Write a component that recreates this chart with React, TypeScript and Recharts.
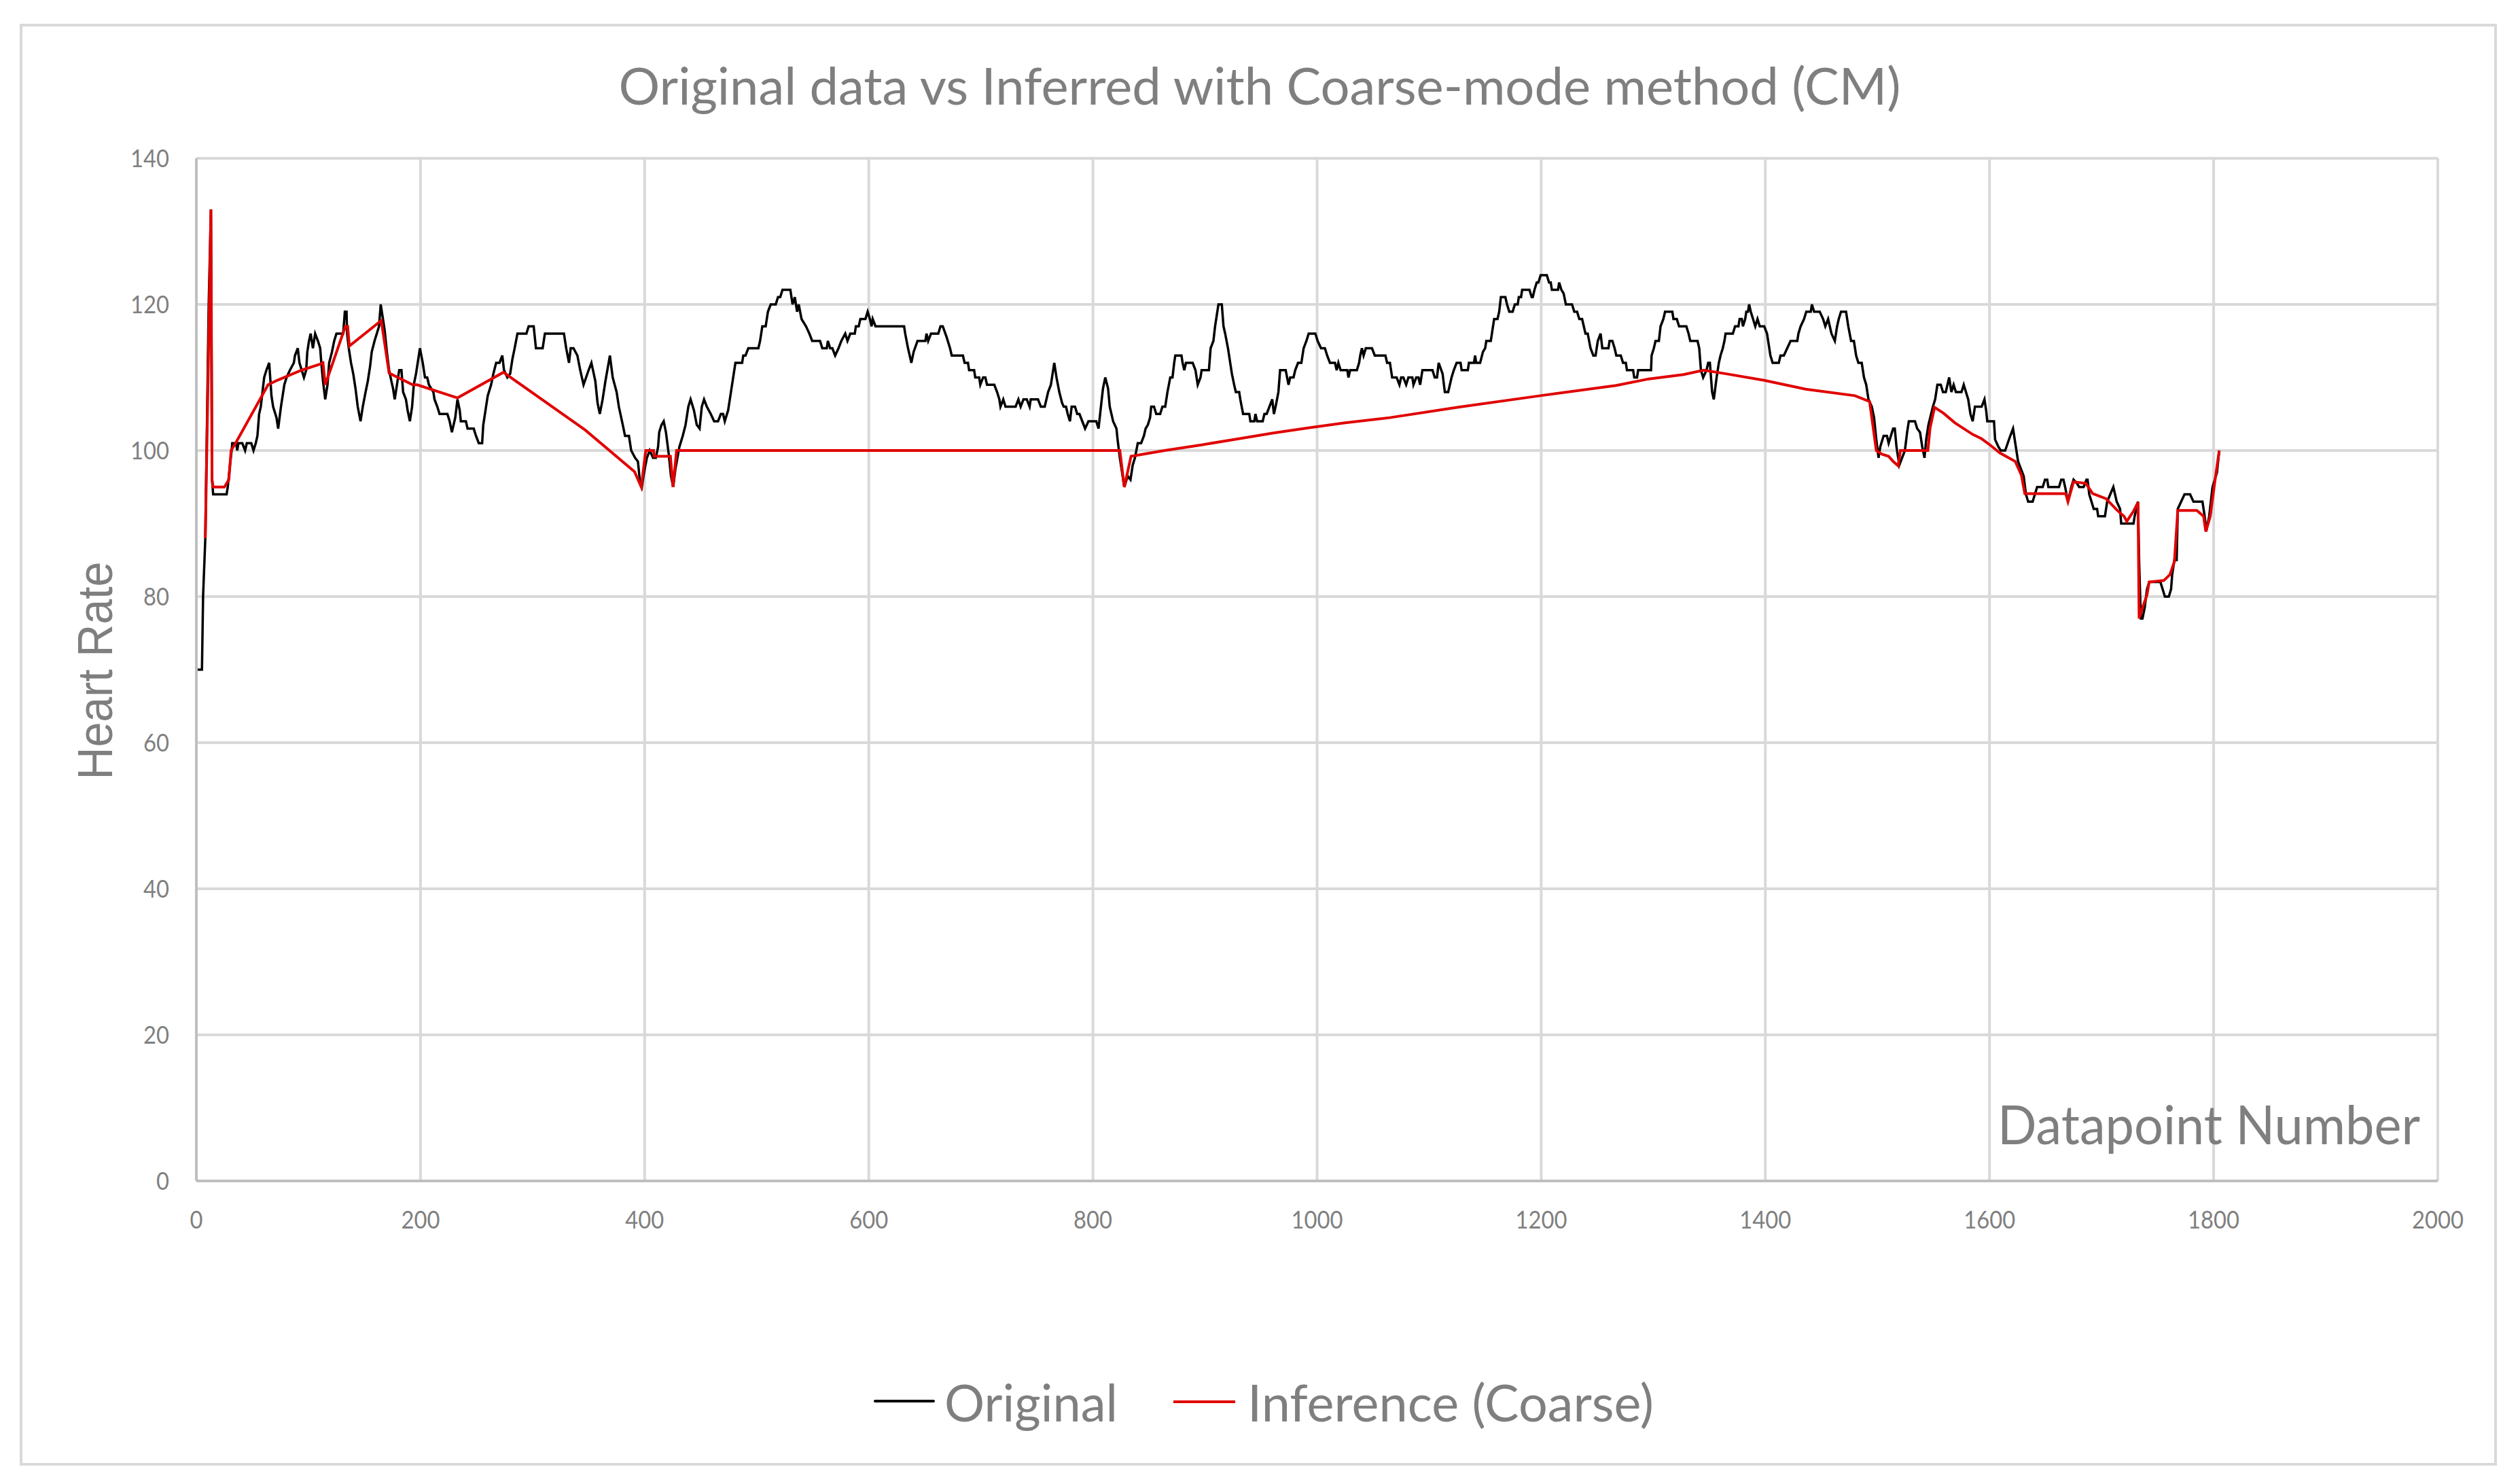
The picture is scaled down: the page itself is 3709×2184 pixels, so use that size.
import { LineChart, Line, XAxis, YAxis, CartesianGrid } from 'recharts';

// Axis ticks
const xTicks = [0, 200, 400, 600, 800, 1000, 1200, 1400, 1600, 1800, 2000];
const yTicks = [0, 20, 40, 60, 80, 100, 120, 140];

// Original heart rate trace as [datapoint, bpm] vertices
const original0to200: [number, number][] = [
  [0, 70], [5, 70], [6, 80], [8, 88], [11, 120], [13, 133], [14, 96], [15, 94], [27, 94], [28, 95],
  [30, 98], [31.5, 100], [32, 101], [35.5, 101], [36.5, 100], [37.5, 101], [41, 101], [43.5, 100], [45, 101], [49, 101],
  [51, 100], [53, 101], [54.5, 102], [56, 105], [57.5, 106], [59, 108], [60.5, 110], [62.5, 111], [65, 112], [67, 107.5],
  [68.5, 106], [71.5, 104.5], [73, 103], [75.5, 106], [77, 107.5], [78.5, 109], [80.5, 110], [83.5, 111], [87, 112], [88, 113],
  [90.5, 114], [92, 112], [94, 111], [96, 110], [98, 111], [99, 113.5], [100.5, 115], [102, 116], [104, 114], [106, 116],
  [108.5, 115], [110.5, 114], [111.5, 112], [113, 109.5], [115, 107], [117, 109], [118.5, 112], [121, 113.5], [123, 115], [125, 116],
  [131, 116], [132.5, 119], [134, 119], [134.5, 116], [136, 114], [138, 112], [140, 110.5], [142, 108.5], [144, 106], [146.5, 104],
  [148.5, 106], [151, 108], [153, 109.5], [155, 111.5], [156.5, 113.5], [159, 115], [161, 116], [163, 117], [164.5, 120], [166, 118.5],
  [168, 116.5], [170, 113.5], [172, 111], [174, 109.5], [175.5, 108.5], [177, 107], [179, 109], [181, 111], [183, 111], [184.5, 108],
  [187, 107], [188.5, 105.5], [190.5, 104], [192.5, 106], [194, 109], [196, 110.5], [198, 112.5], [199.5, 114],
];

const original200to500: [number, number][] = [
  [202, 112], [204, 110], [206, 110], [207.5, 109], [211.5, 108], [212.5, 107], [215, 106], [217, 105], [224, 105], [226, 104],
  [228, 102.5], [231, 104.5], [233, 107], [235, 105.5], [236, 104], [240.5, 104], [242, 103], [247.5, 103], [249.5, 102], [252, 101],
  [255, 101], [256, 103.5], [258.5, 106], [260, 107.5], [263, 109], [265, 110.5], [267.5, 112], [270.5, 112], [273, 113], [274.5, 111],
  [277.5, 110], [280, 110.5], [282, 112.5], [284, 114], [286.5, 116], [294.5, 116], [296.5, 117], [301, 117], [303, 114], [309, 114],
  [311, 116], [328, 116], [330, 114], [332.5, 112], [334, 114], [336.5, 114], [340, 113], [342.5, 111], [345.5, 109], [350, 111],
  [352.5, 112], [356, 109.5], [358, 106.5], [360, 105], [362.5, 107], [365, 109.5], [369, 113], [371.5, 110], [375, 108], [377, 106],
  [380.5, 103.5], [382.5, 102], [386, 102], [388, 100], [391.5, 99], [394, 98.5], [396, 95.5], [397.5, 95], [399.5, 97], [402, 99],
  [404.5, 100], [407.5, 99], [410, 99], [412, 100.5], [413, 102.5], [415, 103.5], [417, 104], [419, 102.5], [421.5, 99.5], [423.5, 96.5],
  [425.5, 95], [427.5, 97.5], [431, 100.5], [434, 102], [436.5, 103.5], [438, 105], [439, 106], [441, 107], [444, 105.5], [446.5, 103.5],
  [449, 103], [451, 106], [453, 107], [455.5, 106], [459, 105], [462, 104], [465.5, 104], [468, 105], [470, 105], [471.5, 104],
  [474.5, 105.5], [477, 108], [479, 110], [481, 112], [483.5, 112], [487, 112], [488, 113], [490, 113], [492.5, 114],
];

const original500to900: [number, number][] = [
  [501.5, 114], [503, 115], [505, 117], [508, 117], [510, 119], [512.5, 120], [517, 120], [519, 121], [521, 121], [523, 122],
  [530, 122], [532, 120], [534, 121], [536, 119], [537.5, 120], [540, 118], [544, 117], [547, 116], [549.5, 115], [556.5, 115],
  [558.5, 114], [562.5, 114], [563.5, 115], [565.5, 114], [567.5, 114], [570, 113], [573, 114], [575.5, 115], [579, 116], [581, 115],
  [583.5, 116], [587.5, 116], [588.5, 117], [591, 117], [592.5, 118], [597, 118], [599, 119], [601, 118], [602.5, 117], [603.5, 118],
  [606, 117], [631.5, 117], [632.5, 116], [635, 114], [638, 112], [640, 113.5], [643.5, 115], [650.5, 115], [651.5, 116], [653, 115],
  [655.5, 116], [662, 116], [664, 117], [666, 117], [669.5, 115.5], [672.5, 114], [674, 113], [684, 113], [685.5, 112], [688.5, 112],
  [689.5, 111], [694, 111], [695, 110], [698.5, 110], [699.5, 109], [702, 110], [704, 110], [705.5, 109], [712, 109], [714.5, 108],
  [716.5, 107], [717.5, 106], [720, 107], [722, 106], [731, 106], [733.5, 107], [735.5, 106], [738, 107], [741, 107], [743.5, 106],
  [744.5, 107], [751, 107], [753.5, 106], [757, 106], [760, 108], [762.5, 109], [765.5, 112], [767.5, 110], [770, 108], [772.5, 106.5],
  [774, 106], [776, 106], [777.5, 105], [779.5, 104], [781, 106], [784, 106], [786, 105], [788, 105], [790.5, 104], [793, 103],
  [796, 104], [803, 104], [805, 103], [807.5, 106.5], [809, 108.5], [811, 110], [813.5, 108.5], [815, 106], [818, 104], [821, 103],
  [822, 101.5], [824, 99], [826.5, 96.5], [828, 95], [831, 96.5], [833.5, 96], [835.5, 98], [837.5, 99], [840, 101], [843, 101],
  [845.5, 102], [847, 103], [849, 103.5], [851, 104.5], [852, 106], [854.5, 106], [856.5, 105], [860, 105], [862, 106], [864.5, 106],
  [866.5, 108], [869, 110], [871, 110], [872.5, 112], [873.5, 113], [879, 113], [880, 112], [881.5, 111], [883, 112], [889, 112],
  [891.5, 111], [893.5, 109], [896, 110], [897, 111],
];

const original900to1300: [number, number][] = [
  [903.5, 111], [905, 114], [907.5, 115], [909, 117], [910.5, 118.5], [912, 120], [915, 120], [916.5, 117], [918, 116], [920.5, 114],
  [922.5, 112], [924, 110.5], [926, 109], [927.5, 108], [930.5, 108], [931.5, 107], [934, 105], [939.5, 105], [940.5, 104], [944, 104],
  [945, 105], [946.5, 104], [951.5, 104], [953, 105], [955, 105], [957.5, 106], [960, 107], [961.5, 105], [963, 106], [965.5, 108],
  [967, 111], [972, 111], [974.5, 109], [976, 110], [979, 110], [980.5, 111], [983, 112], [986, 112], [988, 114], [990.5, 115],
  [992.5, 116], [998.5, 116], [1000.5, 115], [1003.5, 114], [1007, 114], [1009, 113], [1011.5, 112], [1016, 112], [1017.5, 111], [1019, 112],
  [1021, 111], [1027, 111], [1028, 110], [1029.5, 111], [1035.5, 111], [1037.5, 112], [1038.5, 113], [1040, 114], [1041.5, 113], [1043.5, 114],
  [1049, 114], [1051.5, 113], [1061, 113], [1062.5, 112], [1065, 112], [1067, 110], [1071, 110], [1073.5, 109], [1075, 110], [1077, 110],
  [1079.5, 109], [1081.5, 110], [1085, 110], [1086, 109], [1088.5, 110], [1090.5, 110], [1092, 109], [1094, 111], [1103, 111], [1105, 110],
  [1107, 110], [1108.5, 112], [1112, 110.5], [1114, 108], [1117, 108], [1120, 110], [1122, 111], [1124.5, 112], [1128, 112], [1129, 111],
  [1134.5, 111], [1135.5, 112], [1140, 112], [1141, 113], [1142, 112], [1145.5, 112], [1148, 113.5], [1150, 114], [1151, 115], [1155, 115],
  [1157, 117], [1158, 118], [1161, 118], [1162.5, 119], [1164, 121], [1168, 121], [1169.5, 120], [1171.5, 119], [1174.5, 119], [1176.5, 120],
  [1179, 120], [1180, 121], [1182, 121], [1183, 122], [1189.5, 122], [1191.5, 121], [1192.5, 121], [1194, 122], [1196, 123], [1197.5, 123],
  [1199.5, 124], [1205, 124], [1207, 123], [1208.5, 123], [1209.5, 122], [1215, 122], [1216, 123], [1218, 122], [1220, 121.5], [1222, 120],
  [1227.5, 120], [1229.5, 119], [1232, 119], [1234, 118], [1236.5, 118], [1238, 117], [1239.5, 116], [1241.5, 116], [1244, 114], [1246.5, 113],
  [1248.5, 113], [1250.5, 115], [1253, 116], [1254.5, 114], [1260, 114], [1261, 115], [1263.5, 115], [1265.5, 114], [1267, 113], [1271, 113],
  [1273, 112], [1275.5, 112], [1276.5, 111], [1282, 111], [1283, 110], [1285.5, 110], [1286.5, 111], [1298, 111],
];

const original1300toEnd: [number, number][] = [
  [1298.5, 113], [1300.5, 114], [1302, 115], [1305, 115], [1306.5, 117], [1309, 118], [1310.5, 119], [1317, 119], [1318, 118], [1321, 118],
  [1323, 117], [1329.5, 117], [1331.5, 116], [1333, 115], [1339.5, 115], [1341, 114], [1342.5, 111], [1344.5, 110], [1347.5, 111], [1349, 112],
  [1350.5, 112], [1352.5, 108], [1354, 107], [1356.5, 110], [1358.5, 112], [1360, 113], [1362, 114], [1363.5, 115], [1364.5, 116], [1371, 116],
  [1373, 117], [1376, 117], [1377, 118], [1379, 118], [1380, 117], [1382, 118], [1383, 119], [1384.5, 119], [1385.5, 120], [1387, 119],
  [1389, 118], [1391, 117], [1393, 118], [1395, 117], [1399, 117], [1401.5, 116], [1403, 114.5], [1404.5, 113], [1406.5, 112], [1412, 112],
  [1413.5, 113], [1416.5, 113], [1419.5, 114], [1422.5, 115], [1428.5, 115], [1429.5, 116], [1431.5, 117], [1434.5, 118], [1436.5, 119], [1440.5, 119],
  [1441.5, 120], [1443.5, 119], [1448.5, 119], [1451.5, 118], [1453.5, 117], [1456, 118], [1457.5, 117], [1459, 116], [1462, 115], [1464, 117],
  [1465.5, 118], [1467.5, 119], [1472, 119], [1474, 117], [1476.5, 115], [1479, 115], [1481, 113], [1483, 112], [1486, 112], [1488, 110],
  [1490, 109], [1492, 107], [1495, 106], [1497, 104.5], [1499, 101.5], [1501, 99], [1502.5, 100.5], [1505.5, 102], [1508.5, 102], [1510, 101],
  [1512, 102], [1514, 103], [1515.5, 103], [1517, 100.5], [1518.5, 99], [1519.5, 98], [1522, 99], [1524.5, 100], [1526.5, 102.5], [1528, 104],
  [1533.5, 104], [1535.5, 103], [1538, 102.5], [1540, 100.5], [1542, 99], [1543.5, 101.5], [1545.5, 103.5], [1549.5, 106], [1551.5, 107], [1553.5, 109],
  [1556.5, 109], [1558.5, 108], [1561, 108], [1562.5, 109], [1564, 110], [1566, 108], [1568, 109], [1570, 108], [1575, 108], [1577, 109],
  [1579, 108], [1581, 107], [1583, 105], [1585, 104], [1587, 106], [1593, 106], [1595.5, 107], [1597, 105.5], [1598, 104], [1604, 104],
  [1605, 101.5], [1608, 100.5], [1610, 100], [1614, 100], [1618.5, 102], [1621, 103], [1623.5, 100.5], [1625.5, 98.5], [1630.5, 96.5], [1632.5, 94],
  [1634.5, 93], [1638.5, 93], [1640.5, 94], [1642.5, 95], [1647.5, 95], [1649.5, 96], [1651.5, 96], [1652.5, 95], [1662, 95], [1664, 96],
  [1666, 96], [1667.5, 95], [1670, 93], [1673, 95], [1675, 96], [1678, 95.5], [1680, 95], [1684, 95], [1686.5, 96], [1687.5, 96],
  [1689, 94], [1691, 93], [1693, 92], [1696, 92], [1697, 91], [1703, 91], [1705, 93], [1710.5, 95], [1713.5, 93], [1716.5, 92],
  [1717.5, 90], [1728.5, 90], [1729.5, 91], [1732.5, 93], [1733.5, 85], [1735, 77], [1736.5, 77], [1738.5, 78.5], [1740.5, 81], [1742.5, 82],
  [1752.5, 82], [1754.5, 81], [1756.5, 80], [1760, 80], [1762, 81], [1763, 83], [1765, 85], [1767, 85], [1768, 92], [1771, 93],
  [1774, 94], [1779, 94], [1782, 93], [1790, 93], [1792, 91], [1793.5, 89], [1796, 91], [1799, 95], [1803, 97], [1805, 100],
];

// Coarse-mode inference trace
const inferenceCoarse: [number, number][] = [
  [8, 88], [13, 133], [14, 96], [15, 95], [25, 95], [29, 96], [31, 100], [35, 101], [64, 109], [72, 109.6],
  [94, 111], [110, 111.8], [113, 112], [115, 109], [133, 117], [135, 117], [136.5, 114.3], [165, 117.8], [172, 110.6], [193, 109],
  [197, 109], [233, 107.2], [274, 110.7], [347, 102.8], [391, 97.1], [397, 95], [401, 100], [408, 100], [408.5, 99.2], [423, 99.2],
  [425.3, 95], [428.5, 100], [824, 100], [828, 95], [834, 99.2], [864, 100], [898, 100.8], [930, 101.6], [961, 102.4], [992, 103.1],
  [1025, 103.8], [1065, 104.5], [1125, 105.9], [1199, 107.5], [1267, 108.9], [1296, 109.8], [1327, 110.4], [1345, 111], [1365, 110.5], [1399, 109.6],
  [1436, 108.4], [1480, 107.5], [1493, 106.7], [1499, 100], [1504, 99.5], [1510, 99.2], [1514, 98.5], [1518.5, 97.9], [1520.5, 100], [1545, 100],
  [1547, 103.1], [1551, 105.9], [1559, 105.1], [1569, 103.8], [1585, 102.2], [1593, 101.6], [1601, 100.7], [1609, 99.7], [1616, 99.1], [1623, 98.5],
  [1628.5, 96.6], [1631.5, 94.1], [1668, 94.1], [1670, 93], [1672, 94.1], [1675, 95.7], [1686, 95.5], [1692, 94.1], [1704, 93.4], [1714, 91.8],
  [1720, 91], [1722.5, 90.3], [1728.5, 91.7], [1732.5, 92.9], [1733.5, 77], [1736.5, 78.5], [1740.5, 80.2], [1742.5, 82], [1755.5, 82.2], [1761, 83],
  [1765, 84.8], [1768, 91.8], [1785, 91.8], [1791, 91], [1793, 88.9], [1797, 91], [1801, 95.7], [1805, 100],
];

const toRows = (pts: [number, number][]) => pts.map(([x, y]) => ({ x, y }));

const originalRows = toRows([
  ...original0to200,
  ...original200to500,
  ...original500to900,
  ...original900to1300,
  ...original1300toEnd,
]);
const inferenceRows = toRows(inferenceCoarse);

const GRAY = '#7f7f7f';
const FONT = 'Lato, "Open Sans", sans-serif';

function YTick(props: any) {
  const { y, payload } = props;
  const s = String(payload.value);
  return (
    <text
      x={249}
      y={y + 13}
      textAnchor="end"
      fill={GRAY}
      fontFamily={FONT}
      fontSize={37}
      textLength={19 * s.length}
      lengthAdjust="spacingAndGlyphs"
    >
      {s}
    </text>
  );
}

function XTick(props: any) {
  const { x, payload } = props;
  const s = String(payload.value);
  return (
    <text
      x={x}
      y={1808}
      textAnchor="middle"
      fill={GRAY}
      fontFamily={FONT}
      fontSize={37}
      textLength={19 * s.length}
      lengthAdjust="spacingAndGlyphs"
    >
      {s}
    </text>
  );
}

export default function App() {
  return (
    <div style={{ position: 'absolute', left: 0, top: 0, width: 3709, height: 2184, background: '#fff' }}>
      <LineChart
        width={3709}
        height={2184}
        margin={{ top: 233, right: 121, bottom: 386, left: 189 }}
      >
        <CartesianGrid stroke="#d9d9d9" strokeWidth={4} />
        <XAxis
          type="number"
          dataKey="x"
          domain={[0, 2000]}
          ticks={xTicks}
          interval={0}
          height={60}
          axisLine={{ stroke: '#bfbfbf', strokeWidth: 4 }}
          tickLine={false}
          tick={<XTick />}
        />
        <YAxis
          type="number"
          dataKey="y"
          domain={[0, 140]}
          ticks={yTicks}
          interval={0}
          width={100}
          axisLine={{ stroke: '#bfbfbf', strokeWidth: 4 }}
          tickLine={false}
          tick={<YTick />}
        />
        <Line
          data={originalRows}
          dataKey="y"
          type="linear"
          stroke="#000000"
          strokeWidth={3.5}
          dot={false}
          isAnimationActive={false}
        />
        <Line
          data={inferenceRows}
          dataKey="y"
          type="linear"
          stroke="#e00000"
          strokeWidth={4}
          dot={false}
          isAnimationActive={false}
        />
      </LineChart>

      <svg
        width={3709}
        height={2184}
        style={{ position: 'absolute', left: 0, top: 0, pointerEvents: 'none' }}
      >
        <rect x={31} y={37} width={3642} height={2118} fill="none" stroke="#d9d9d9" strokeWidth={4} />
        <text
          x={1854}
          y={154}
          textAnchor="middle"
          fill={GRAY}
          fontFamily={FONT}
          fontSize={75}
          textLength={1887}
          lengthAdjust="spacingAndGlyphs"
        >
          Original data vs Inferred with Coarse-mode method (CM)
        </text>
        <text
          transform="translate(165, 987) rotate(-90)"
          x={0}
          y={0}
          textAnchor="middle"
          fill={GRAY}
          fontFamily='"Liberation Sans", Arial, sans-serif'
          fontSize={72}
          textLength={321}
          lengthAdjust="spacingAndGlyphs"
        >
          Heart  Rate
        </text>
        <text
          x={3562}
          y={1684}
          textAnchor="end"
          fill={GRAY}
          fontFamily={FONT}
          fontSize={80}
          textLength={622}
          lengthAdjust="spacingAndGlyphs"
        >
          Datapoint Number
        </text>
        <line x1={1288} y1={2062} x2={1374} y2={2062} stroke="#000000" strokeWidth={4} strokeLinecap="round" />
        <text
          x={1390}
          y={2092}
          fill={GRAY}
          fontFamily={FONT}
          fontSize={75}
          textLength={255}
          lengthAdjust="spacingAndGlyphs"
        >
          Original
        </text>
        <line x1={1727} y1={2063} x2={1818} y2={2063} stroke="#e00000" strokeWidth={4} />
        <text
          x={1836}
          y={2092}
          fill={GRAY}
          fontFamily={FONT}
          fontSize={75}
          textLength={598}
          lengthAdjust="spacingAndGlyphs"
        >
          Inference (Coarse)
        </text>
      </svg>
    </div>
  );
}
